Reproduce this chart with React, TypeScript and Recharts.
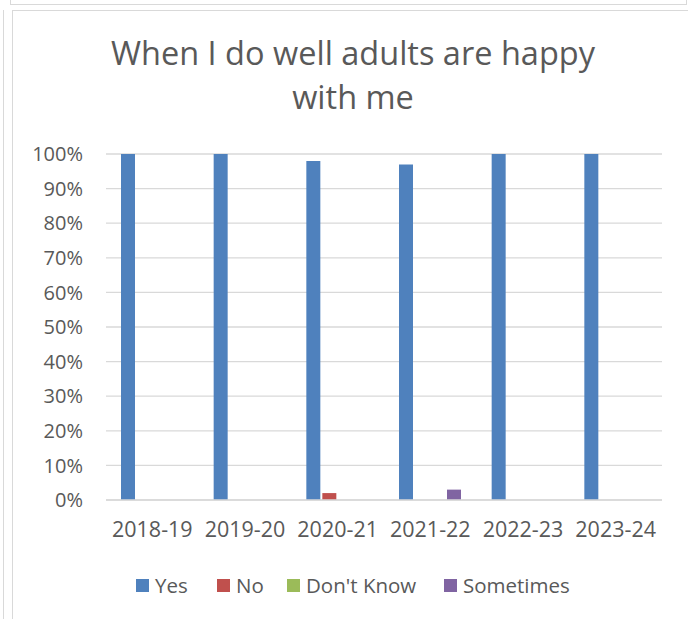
import React from "react";
import { BarChart, Bar, XAxis, YAxis, CartesianGrid } from "recharts";

const categories = ["2018-19", "2019-20", "2020-21", "2021-22", "2022-23", "2023-24"];
const yesValues = [100, 100, 98, 97, 100, 100];
const noValues = [0, 0, 2, 0, 0, 0];
const dontKnowValues = [0, 0, 0, 0, 0, 0];
const sometimesValues = [0, 0, 0, 3, 0, 0];
const yTicks = [0, 10, 20, 30, 40, 50, 60, 70, 80, 90, 100];
const titleLines = ["When I do well adults are happy", "with me"];

const series = [
  { key: "yes", name: "Yes", color: "#4F81BD", values: yesValues },
  { key: "no", name: "No", color: "#C0504D", values: noValues },
  { key: "dk", name: "Don't Know", color: "#9BBB59", values: dontKnowValues },
  { key: "some", name: "Sometimes", color: "#8064A2", values: sometimesValues },
];

const data = categories.map((c, i) => {
  const row: Record<string, any> = { cat: c };
  series.forEach((s) => (row[s.key] = s.values[i]));
  return row;
});

const FONT = "'Open Sans', sans-serif";
const TEXT = "#595959";
const FRAME = "#d9d9d9";

const legendX = [136, 217, 287, 444];

export default function App() {
  return (
    <div style={{ position: "absolute", left: 0, top: 0, width: 688, height: 619, background: "#fff", overflow: "hidden", fontFamily: FONT }}>
      {/* frames */}
      <div style={{ position: "absolute", left: 10, top: -10, width: 675, height: 13, border: `1.5px solid ${FRAME}` }} />
      <div style={{ position: "absolute", left: 3, top: 10, width: 0, height: 620, borderLeft: `1.5px solid ${FRAME}` }} />
      <div style={{ position: "absolute", left: 12, top: 10, width: 700, height: 620, borderLeft: `1.5px solid ${FRAME}`, borderTop: `1.5px solid ${FRAME}` }} />
      {/* title */}
      {titleLines.map((t, i) => (
        <div key={i} style={{ position: "absolute", left: 0, width: 706, top: 32 + i * 44, textAlign: "center", fontSize: 32.5, lineHeight: "42px", color: TEXT, whiteSpace: "nowrap" }}>
          {t}
        </div>
      ))}
      <div style={{ position: "absolute", left: 0, top: 0 }}>
        <BarChart
          width={688}
          height={619}
          data={data}
          margin={{ top: 154, right: 26, bottom: 79, left: 16 }}
          barSize={14}
          barGap={2}
        >
          <CartesianGrid vertical={false} stroke={FRAME} strokeWidth={1.3} />
          <XAxis
            dataKey="cat"
            height={40}
            axisLine={{ stroke: FRAME, strokeWidth: 1.3 }}
            tickLine={false}
            tickSize={0}
            tickMargin={22}
            tick={{ fill: TEXT, fontSize: 21.5, fontFamily: FONT }}
            interval={0}
          />
          <YAxis
            width={90}
            domain={[0, 100]}
            ticks={yTicks}
            axisLine={false}
            tickLine={false}
            tickSize={0}
            tickMargin={23}
            tickFormatter={(v: number) => `${v}%`}
            tick={{ fill: TEXT, fontSize: 20, fontFamily: FONT }}
          />
          {series.map((s) => (
            <Bar key={s.key} dataKey={s.key} name={s.name} fill={s.color} isAnimationActive={false} />
          ))}
        </BarChart>
      </div>
      {/* legend */}
      {series.map((s, i) => (
        <div key={s.key} style={{ position: "absolute", left: legendX[i], top: 572, height: 26, display: "flex", alignItems: "center", whiteSpace: "nowrap" }}>
          <div style={{ width: 13, height: 13, background: s.color, marginRight: 6 }} />
          <span style={{ fontSize: 20.5, color: TEXT, lineHeight: "26px" }}>{s.name}</span>
        </div>
      ))}
    </div>
  );
}
